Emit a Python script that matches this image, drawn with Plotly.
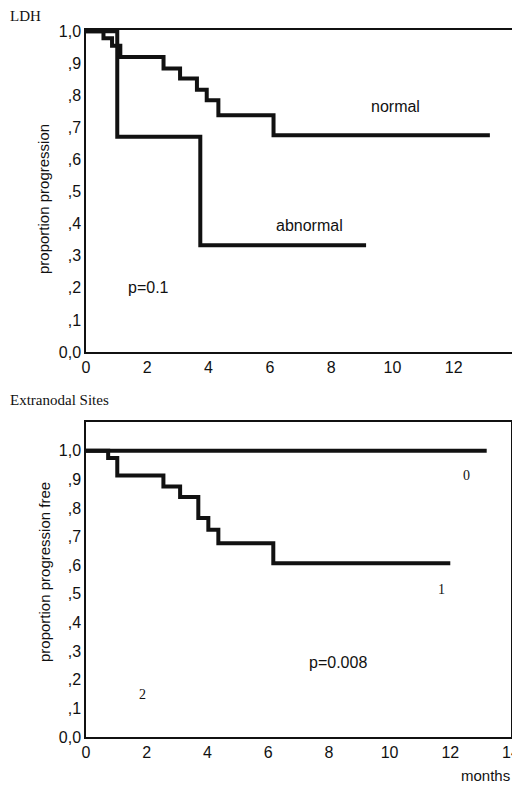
import plotly.graph_objects as go

# ---- data ----
ldh_normal_t = [0, 0.57, 0.85, 1.12, 2.53, 3.07, 3.62, 3.94, 4.32, 6.12, 13.18]
ldh_normal_s = [1.0, 0.978, 0.955, 0.92, 0.884, 0.853, 0.818, 0.785, 0.738, 0.676, 0.676]
ldh_abn_t = [0, 1.02, 3.73, 9.14]
ldh_abn_s = [1.0, 0.671, 0.333, 0.333]

ext0_t = [0, 13.2]
ext0_s = [1.0, 1.0]
ext1_t = [0, 0.73, 1.03, 2.55, 3.1, 3.7, 4.03, 4.36, 6.17, 12.0]
ext1_s = [1.0, 0.974, 0.913, 0.875, 0.838, 0.765, 0.724, 0.677, 0.607, 0.607]

x_ticks = [0, 2, 4, 6, 8, 10, 12, 14]
y_ticks = [0.0, 0.1, 0.2, 0.3, 0.4, 0.5, 0.6, 0.7, 0.8, 0.9, 1.0]
y_tick_text = ["0,0", ",1", ",2", ",3", ",4", ",5", ",6", ",7", ",8", ",9", "1,0"]

# page body has an 8px default margin, so the figure is offset by 8px
OFF = 8
WIN_W, WIN_H = 520, 787
W, H = WIN_W - OFF, WIN_H - OFF
SANS = "Liberation Sans, Arial, sans-serif"
SERIF = "Liberation Serif, Times New Roman, serif"
INK = "#111111"

fig = go.Figure()
line = dict(color=INK, width=4, shape="hv")
fig.add_trace(go.Scatter(x=ldh_normal_t, y=ldh_normal_s, mode="lines", line=line, xaxis="x", yaxis="y"))
fig.add_trace(go.Scatter(x=ldh_abn_t, y=ldh_abn_s, mode="lines", line=line, xaxis="x", yaxis="y"))
fig.add_trace(go.Scatter(x=ext0_t, y=ext0_s, mode="lines", line=line, xaxis="x2", yaxis="y2"))
fig.add_trace(go.Scatter(x=ext1_t, y=ext1_s, mode="lines", line=line, xaxis="x2", yaxis="y2"))

def px_x(p):
    return (p - OFF) / W

def px_y(p):
    return (H - (p - OFF)) / H

axis_common = dict(showline=True, mirror=True, linecolor=INK, linewidth=1.5,
                   showgrid=False, zeroline=False, ticks="", automargin=False,
                   tickfont=dict(family=SANS, size=16, color=INK))

fig.update_layout(
    template="none",
    width=W, height=H, margin=dict(l=0, r=0, t=0, b=0, pad=0),
    paper_bgcolor="white", plot_bgcolor="white", showlegend=False,
    xaxis=dict(domain=[px_x(86), px_x(515)], range=[0, 14], tickvals=x_ticks,
               anchor="y", **axis_common),
    yaxis=dict(domain=[px_y(352), px_y(30)], range=[0, 1.004], tickvals=y_ticks,
               ticktext=y_tick_text, anchor="x", **axis_common),
    xaxis2=dict(domain=[px_x(86), px_x(511)], range=[0, 14], tickvals=x_ticks,
                anchor="y2", **axis_common),
    yaxis2=dict(domain=[px_y(737), px_y(422)], range=[0, 1.1], tickvals=y_ticks,
                ticktext=y_tick_text, anchor="x2", **axis_common),
)

ann = []
sans16 = dict(family=SANS, size=16, color=INK)
sans15 = dict(family=SANS, size=15, color=INK)
serif_t = dict(family=SERIF, size=15, color=INK)
serif_n = dict(family=SERIF, size=14, color=INK)
ann.append(dict(text="LDH", x=px_x(8), y=px_y(16), xref="paper", yref="paper",
                xanchor="left", yanchor="middle", showarrow=False, font=serif_t))
ann.append(dict(text="Extranodal Sites", x=px_x(8), y=px_y(400), xref="paper", yref="paper",
                xanchor="left", yanchor="middle", showarrow=False, font=serif_t))
ann.append(dict(text="proportion progression", x=px_x(44), y=px_y(199), xref="paper", yref="paper",
                xanchor="center", yanchor="middle", textangle=-90, showarrow=False, font=sans15))
ann.append(dict(text="proportion progression free", x=px_x(44), y=px_y(572), xref="paper", yref="paper",
                xanchor="center", yanchor="middle", textangle=-90, showarrow=False, font=sans15))
ann.append(dict(text="months", x=px_x(485), y=px_y(775), xref="paper", yref="paper",
                xanchor="center", yanchor="middle", showarrow=False, font=sans15))
ann.append(dict(text="normal", x=10.1, y=0.766, xref="x", yref="y", showarrow=False, font=sans16))
ann.append(dict(text="abnormal", x=7.3, y=0.396, xref="x", yref="y", showarrow=False, font=sans16))
ann.append(dict(text="p=0.1", x=2.03, y=0.2, xref="x", yref="y", showarrow=False, font=sans16))
ann.append(dict(text="0", x=12.54, y=0.913, xref="x2", yref="y2", showarrow=False, font=serif_n))
ann.append(dict(text="1", x=11.71, y=0.515, xref="x2", yref="y2", showarrow=False, font=serif_n))
ann.append(dict(text="2", x=1.87, y=0.147, xref="x2", yref="y2", showarrow=False, font=serif_n))
ann.append(dict(text="p=0.008", x=8.3, y=0.26, xref="x2", yref="y2", showarrow=False, font=sans16))
fig.update_layout(annotations=ann)

fig.write_html("out.html")
